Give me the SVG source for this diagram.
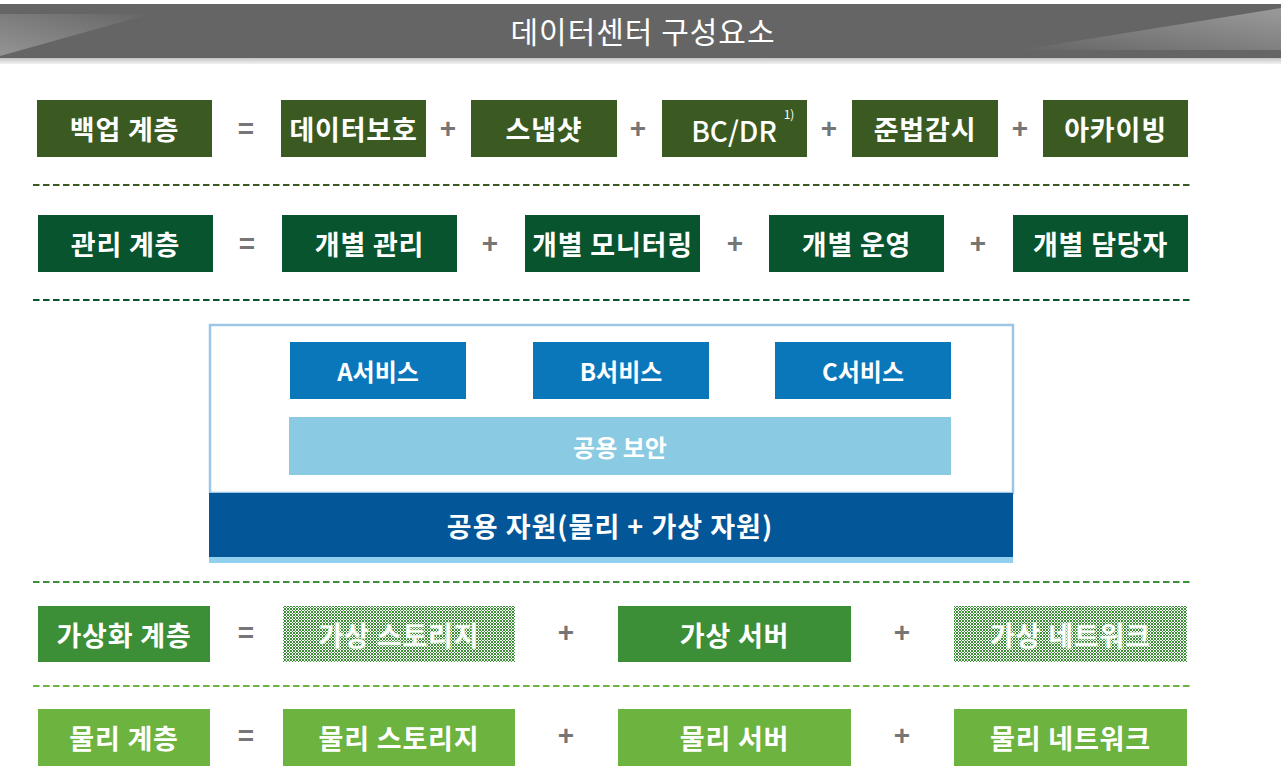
<svg xmlns="http://www.w3.org/2000/svg" width="1282" height="778" viewBox="0 0 1282 778">
<style>
text{font-family:"Noto Sans CJK KR","Noto Sans",sans-serif;fill:#fff;text-anchor:middle;dominant-baseline:central}
.b{font-size:27px;font-weight:bold;letter-spacing:0.8px}
.op{fill:#767676;font-size:28px;font-weight:bold;font-family:"Liberation Sans",sans-serif}
.svc{font-size:24px;font-weight:bold}
.dash{stroke-width:2.2;stroke-dasharray:6.5 3.5;fill:none}
.c1{fill:#3a5a22}.c2{fill:#08542e}.c3{fill:#3d8f37}.c4{fill:#6db33f}
</style>
<defs>
<linearGradient id="gl" x1="0" y1="1" x2="1" y2="0">
<stop offset="0" stop-color="#a0a0a0"/><stop offset="1" stop-color="#666"/>
</linearGradient>
<linearGradient id="gr" x1="0" y1="1" x2="1" y2="0">
<stop offset="0" stop-color="#666"/><stop offset="1" stop-color="#a8a8a8"/>
</linearGradient>
<linearGradient id="gs" x1="0" y1="0" x2="0" y2="1">
<stop offset="0" stop-color="#c4c4c4"/><stop offset="1" stop-color="#f2f2f2"/>
</linearGradient>
<pattern id="chk" width="3" height="3" patternUnits="userSpaceOnUse">
<rect width="3" height="3" fill="#fff"/>
<rect x="0" y="0" width="1" height="1" fill="#3d8f37"/>
<rect x="1" y="1" width="1" height="1" fill="#3d8f37"/>
<rect x="2" y="0" width="1" height="1" fill="#3d8f37"/>
<rect x="2" y="2" width="1" height="1" fill="#3d8f37"/>
<rect x="0" y="2" width="1" height="1" fill="#3d8f37"/>
</pattern>
</defs>
<rect width="1282" height="778" fill="#fff"/>
<g id="header">
<rect x="0" y="4" width="1281" height="54" fill="#656565"/>
<polygon points="0,14 150,14 0,56" fill="url(#gl)" opacity="0.8"/>
<polygon points="1281,8 1281,50 1020,50" fill="url(#gr)" opacity="0.8"/>
<rect x="0" y="58" width="1281" height="6" fill="url(#gs)"/>
<text x="643" y="30" style="font-size:30px;font-weight:normal;letter-spacing:1px">데이터센터 구성요소</text>
</g>
<g id="connectors">
<line class="dash" x1="33" y1="185" x2="1190" y2="185" stroke="#3a5a22"/>
<line class="dash" x1="33" y1="300" x2="1190" y2="300" stroke="#08542e"/>
<line class="dash" x1="33" y1="582" x2="1190" y2="582" stroke="#3d8f37"/>
<line class="dash" x1="33" y1="686" x2="1190" y2="686" stroke="#6db33f"/>
</g>
<g id="row-backup">
<rect class="c1" x="37" y="100" width="175" height="57"/><text class="b" x="124.5" y="128.5">백업 계층</text>
<text class="op" x="246" y="128.5">=</text>
<rect class="c1" x="281" y="100" width="145" height="57"/><text class="b" x="353.5" y="128.5">데이터보호</text>
<text class="op" x="448" y="128.5">+</text>
<rect class="c1" x="471" y="100" width="146" height="57"/><text class="b" x="544" y="128.5">스냅샷</text>
<text class="op" x="638" y="128.5">+</text>
<rect class="c1" x="662" y="100" width="145" height="57"/><text x="734" y="129.5" style="font-size:28px;font-weight:500">BC/DR</text><text x="789" y="113" style="font-size:12px">1)</text>
<text class="op" x="829" y="128.5">+</text>
<rect class="c1" x="852" y="100" width="146" height="57"/><text class="b" x="925" y="128.5">준법감시</text>
<text class="op" x="1020" y="128.5">+</text>
<rect class="c1" x="1043" y="100" width="145" height="57"/><text class="b" x="1115.5" y="128.5">아카이빙</text>
</g>
<g id="row-mgmt">
<rect class="c2" x="38" y="215" width="175" height="57"/><text class="b" x="125.5" y="243.5">관리 계층</text>
<text class="op" x="247" y="243.5">=</text>
<rect class="c2" x="282" y="215" width="175" height="57"/><text class="b" x="369.5" y="243.5">개별 관리</text>
<text class="op" x="490" y="243.5">+</text>
<rect class="c2" x="525" y="215" width="175" height="57"/><text class="b" x="612.5" y="243.5">개별 모니터링</text>
<text class="op" x="735" y="243.5">+</text>
<rect class="c2" x="769" y="215" width="175" height="57"/><text class="b" x="856.5" y="243.5">개별 운영</text>
<text class="op" x="978" y="243.5">+</text>
<rect class="c2" x="1013" y="215" width="175" height="57"/><text class="b" x="1100.5" y="243.5">개별 담당자</text>
</g>
<g id="shared">
<rect x="210" y="325" width="803" height="168" fill="#fff" stroke="#9cc6e6" stroke-width="2.5"/>
<g id="svc-a"><rect x="290" y="342" width="176" height="57" fill="#0b77bb"/><text class="svc" x="378" y="370.5">A서비스</text></g>
<g id="svc-b"><rect x="533" y="342" width="176" height="57" fill="#0b77bb"/><text class="svc" x="621" y="370.5">B서비스</text></g>
<g id="svc-c"><rect x="775" y="342" width="176" height="57" fill="#0b77bb"/><text class="svc" x="863" y="370.5">C서비스</text></g>
<g id="security"><rect x="289" y="417" width="662" height="58" fill="#8acae2"/><text class="svc" x="620" y="446">공용 보안</text></g>
<g id="resources"><rect x="209" y="493" width="804" height="64" fill="#035697"/><rect x="209" y="557" width="804" height="6" fill="#92d0f0"/><text class="b" x="610" y="525" style="font-size:27px;letter-spacing:1px">공용 자원(물리 + 가상 자원)</text></g>
</g>
<g id="row-virt">
<rect class="c3" x="38" y="606" width="172" height="56"/><text class="b" x="124" y="634">가상화 계층</text>
<text class="op" x="246" y="632">=</text>
<rect x="283" y="606" width="232" height="56" fill="url(#chk)"/><text class="b" x="399" y="634" style="fill:#fff;stroke:#cfe6cc;stroke-width:0.5">가상 스토리지</text>
<text class="op" x="566" y="632">+</text>
<rect class="c3" x="618" y="606" width="233" height="56"/><text class="b" x="734.5" y="634">가상 서버</text>
<text class="op" x="902" y="632">+</text>
<rect x="954" y="606" width="233" height="56" fill="url(#chk)"/><text class="b" x="1070.5" y="634" style="fill:#fff;stroke:#cfe6cc;stroke-width:0.5">가상 네트워크</text>
</g>
<g id="row-phys">
<rect class="c4" x="38" y="709" width="172" height="57"/><text class="b" x="124" y="737.5">물리 계층</text>
<text class="op" x="246" y="735">=</text>
<rect class="c4" x="283" y="709" width="232" height="57"/><text class="b" x="399" y="737.5">물리 스토리지</text>
<text class="op" x="566" y="735">+</text>
<rect class="c4" x="618" y="709" width="233" height="57"/><text class="b" x="734.5" y="737.5">물리 서버</text>
<text class="op" x="902" y="735">+</text>
<rect class="c4" x="954" y="709" width="233" height="57"/><text class="b" x="1070.5" y="737.5">물리 네트워크</text>
</g>
</svg>
